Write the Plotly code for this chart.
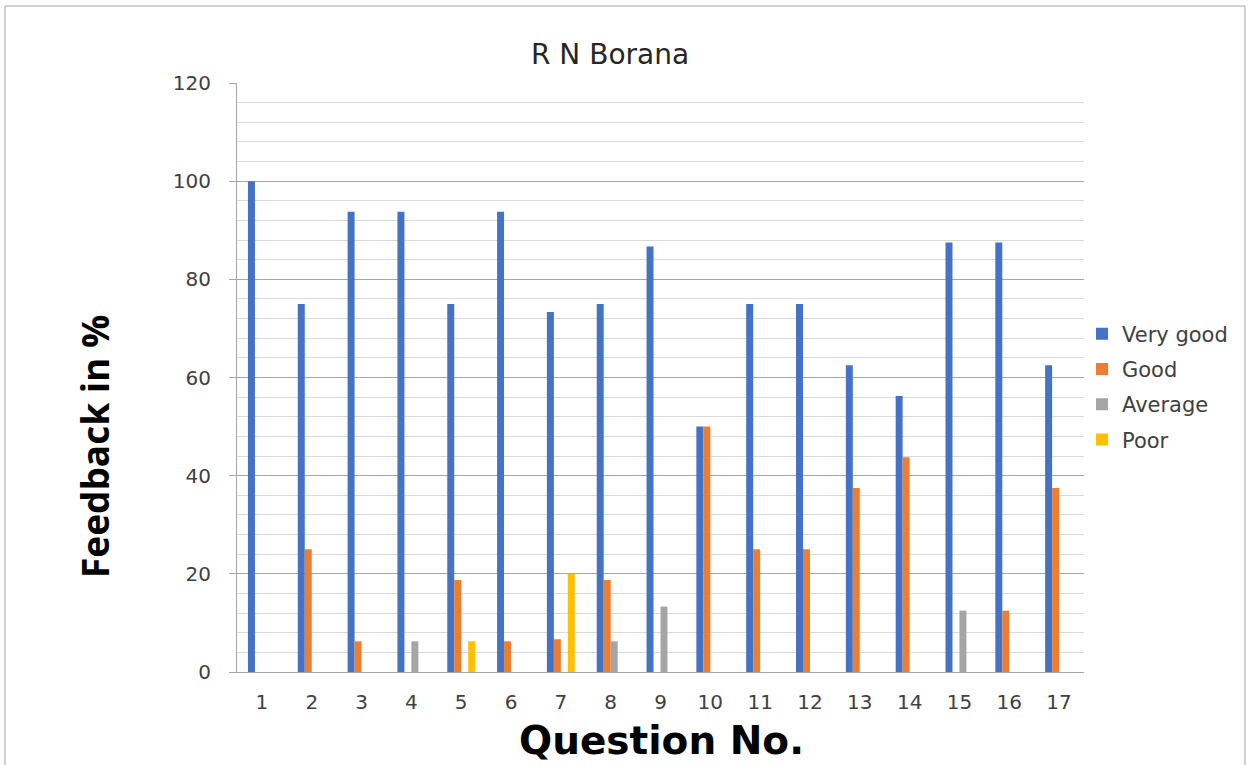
import plotly.graph_objects as go

questions = ["1", "2", "3", "4", "5", "6", "7", "8", "9", "10",
             "11", "12", "13", "14", "15", "16", "17"]
very_good = [100, 75, 93.75, 93.75, 75, 93.75, 73.33, 75, 86.67, 50,
             75, 75, 62.5, 56.25, 87.5, 87.5, 62.5]
good = [0, 25, 6.25, 0, 18.75, 6.25, 6.67, 18.75, 0, 50,
        25, 25, 37.5, 43.75, 0, 12.5, 37.5]
average = [0, 0, 0, 6.25, 0, 0, 0, 6.25, 13.33, 0,
           0, 0, 0, 0, 12.5, 0, 0]
poor = [0, 0, 0, 0, 6.25, 0, 20, 0, 0, 0,
        0, 0, 0, 0, 0, 0, 0]

series = [("Very good", very_good, "#4472C4"),
          ("Good", good, "#ED7D31"),
          ("Average", average, "#A5A5A5"),
          ("Poor", poor, "#FFC000")]

W, H = 1253, 765
L, R, T, B = 237, 1084, 83, 672   # plot area in pixels
pw, ph = R - L, B - T


def px(x):
    return (x - L) / pw


def py(y):
    return (B - y) / ph


fig = go.Figure()
for name, vals, col in series:
    fig.add_trace(go.Bar(x=questions, y=vals, name=name, legendgroup=name,
                         marker=dict(color=col, line=dict(width=0))))

font = "DejaVu Sans"
fig.update_layout(
    width=W, height=H,
    margin=dict(l=L, r=W - R, t=T, b=H - B),
    paper_bgcolor="white", plot_bgcolor="white",
    barmode="group", bargap=0.44, bargroupgap=0,
    font=dict(family=font, color="#404040"),
    showlegend=True,
    legend=dict(x=px(1082), y=py(387), xanchor="left", yanchor="middle",
                font=dict(size=21, color="#404040"), tracegroupgap=5,
                itemwidth=30, bgcolor="rgba(0,0,0,0)"),
)
fig.update_xaxes(
    type="category", showline=True, linecolor="#A6A6A6", linewidth=1,
    ticks="", tickfont=dict(size=20, color="#404040"),
    ticklabelstandoff=12, showgrid=False,
)
fig.update_yaxes(
    range=[0, 120], dtick=20, showline=True, linecolor="#A6A6A6", linewidth=1,
    ticks="outside", ticklen=7, tickcolor="#A6A6A6",
    tickfont=dict(size=20, color="#404040"), ticklabelstandoff=14,
    showgrid=True, gridcolor="#A6A6A6", gridwidth=1, zeroline=False,
    minor=dict(dtick=4, showgrid=True, gridcolor="#D9D9D9", gridwidth=1, ticks=""),
)

# chart title and axis titles
fig.add_annotation(text="R N Borana", x=px(610), y=py(54), xref="paper", yref="paper",
                   xanchor="center", yanchor="middle", showarrow=False,
                   font=dict(size=28, color="#262626"))
fig.add_annotation(text="<b>Feedback in %</b>", x=px(94), y=py(447), xref="paper",
                   yref="paper", xanchor="center", yanchor="middle",
                   showarrow=False, textangle=-90,
                   font=dict(family="Open Sans", size=37, color="#000000"))
fig.add_annotation(text="<b>Question No.</b>", x=px(661), y=py(740), xref="paper",
                   yref="paper", xanchor="center", yanchor="middle", showarrow=False,
                   font=dict(family="DejaVu Sans", size=39, color="#000000"))

# outer chart border
fig.add_shape(type="rect", xref="paper", yref="paper",
              x0=px(5), x1=px(1245), y0=py(780), y1=py(6),
              line=dict(color="#A6A6A6", width=1), layer="below")

# drop the default body margin so the figure sits at the window corner
fig.write_html("out.html", config={"displayModeBar": False},
               post_script="document.body.style.margin='0';"
               "document.body.style.overflow='hidden';")
